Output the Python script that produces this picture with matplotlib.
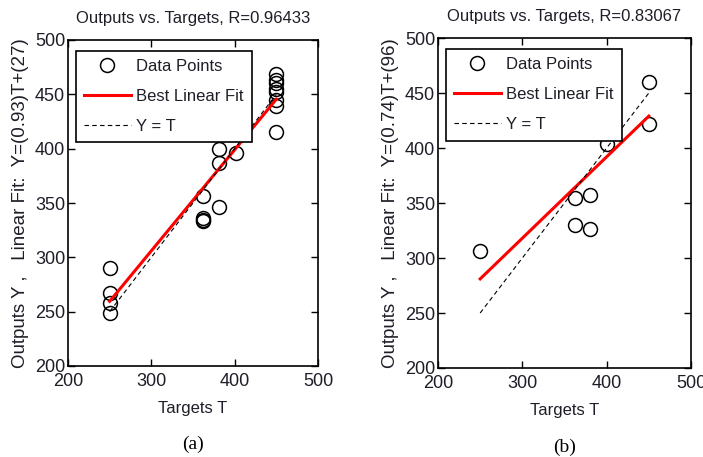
import numpy as np
import matplotlib.pyplot as plt
from matplotlib import font_manager

# panel (a)
targets_a = [250, 250, 250, 250, 362, 362, 362, 362, 381, 381, 381, 401,
             450, 450, 450, 450, 450, 450, 450, 450]
outputs_a = [290, 267, 258, 249, 356, 336, 333, 334, 400, 387, 346, 396,
             469, 463, 460, 455, 452, 445, 439, 415]
slope_a, icept_a, r_a = 0.93, 27, 0.96433

# panel (b)
targets_b = [250, 362, 362, 380, 380, 400, 450, 450]
outputs_b = [306, 355, 330, 357, 326, 404, 460, 422]
slope_b, icept_b, r_b = 0.74, 96, 0.83067

names = {f.name for f in font_manager.fontManager.ttflist}
narrow = 'Liberation Sans Narrow' if 'Liberation Sans Narrow' in names else 'Liberation Sans'
txt = '#1e1e28'

plt.rcParams['font.family'] = [narrow, 'DejaVu Sans']

fig = plt.figure(figsize=(7.03, 4.57), dpi=100)
ax1 = fig.add_axes([68/703, 91/457, 250/703, 326/457])
ax2 = fig.add_axes([438/703, 89/457, 253/703, 330/457])

panels = [(ax1, targets_a, outputs_a, slope_a, icept_a, r_a, '(a)'),
          (ax2, targets_b, outputs_b, slope_b, icept_b, r_b, '(b)')]

for ax, T, Y, m, b, r, cap in panels:
    T = np.array(T)
    Y = np.array(Y)
    tt = np.array([T.min(), T.max()])
    ax.plot(T, Y, 'o', mfc='none', mec='black', ms=10, mew=1.1, label='Data Points')
    ax.plot(tt, m * tt + b, color='red', lw=2.2, label='Best Linear Fit')
    ax.plot(tt, tt, color='black', lw=0.8, ls=(0, (4, 3)), label='Y = T')
    ax.set_xlim(200, 500)
    ax.set_ylim(200, 500)
    ax.set_xticks([200, 300, 400, 500])
    ax.set_yticks(np.arange(200, 501, 50))
    ax.tick_params(direction='in', top=True, right=True, length=5, width=1,
                   labelsize=13, labelcolor=txt)
    ax.tick_params(axis='x', pad=5)
    ax.tick_params(axis='y', pad=2)
    for s in ax.spines.values():
        s.set_linewidth(1.2)
    ax.set_title('Outputs vs. Targets, R=%.5f' % r, fontsize=12, color=txt, pad=12)
    ax.set_xlabel('Targets T', fontsize=12, color=txt, labelpad=8)
    ax.set_ylabel('Outputs Y ,   Linear Fit:  Y=(%.2f)T+(%d)' % (m, b),
                  fontsize=13.5, color=txt, family=['Liberation Sans', 'DejaVu Sans'],
                  labelpad=4)
    leg = ax.legend(loc='upper left', bbox_to_anchor=(0.03, 0.967), numpoints=1,
                    fontsize=12, handlelength=2.8, labelspacing=0.9,
                    handletextpad=0.35, borderaxespad=0, fancybox=False,
                    framealpha=1, edgecolor='black', borderpad=0.5)
    leg.get_frame().set_linewidth(1.2)
    for t in leg.get_texts():
        t.set_color(txt)
    ax.text(0.5, -0.215, cap, transform=ax.transAxes, ha='center', va='top',
            fontsize=14, family=['Liberation Serif', 'DejaVu Serif'], color='black')

fig.savefig('out.png', dpi=100)
